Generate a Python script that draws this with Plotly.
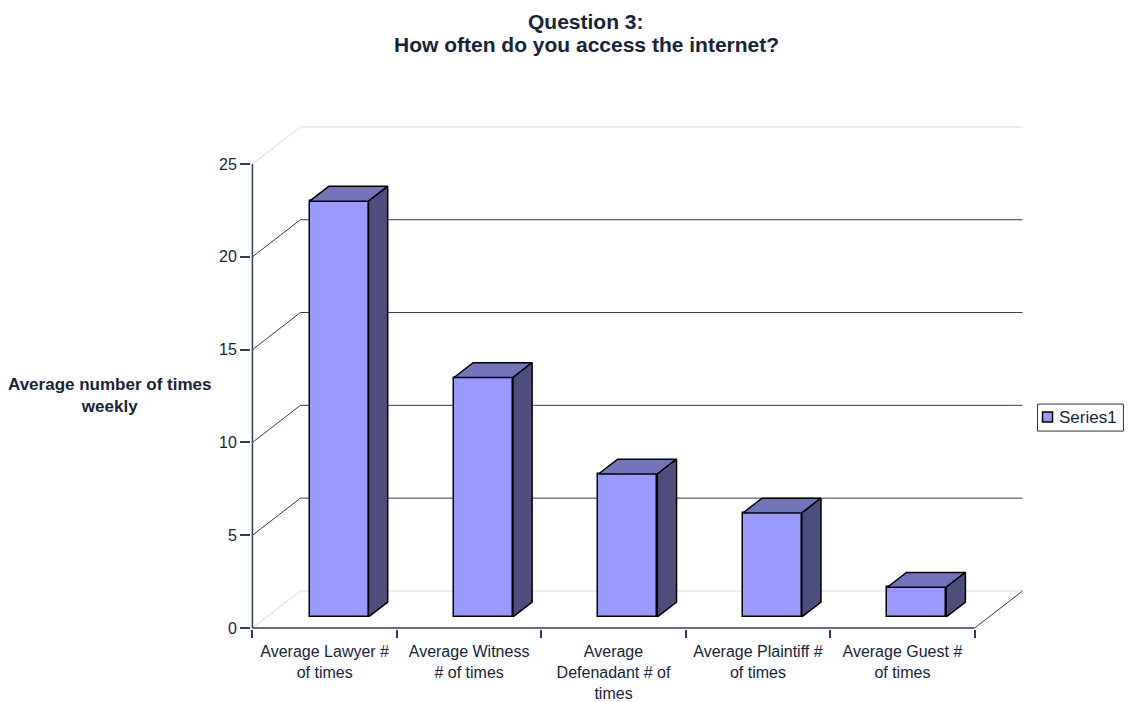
import plotly.graph_objects as go

# ---- data ----
categories = ["Average Lawyer #<br>of times", "Average Witness<br># of times",
              "Average<br>Defenadant # of<br>times", "Average Plaintiff #<br>of times",
              "Average Guest #<br>of times"]
values = [22.4, 12.9, 7.7, 5.6, 1.6]
y_ticks = [0, 5, 10, 15, 20, 25]
series_name = "Series1"
title_lines = ["Question 3:", "How often do you access the internet?"]

# ---- geometry (3D look) ----
DX, DY = 0.332, 2.0          # depth offset in data units (x, y)
D0, D1 = 0.3, 0.7            # bar depth span (fraction of full depth)
BW = 0.408                   # bar width
PAD_X, PAD_Y = 0.01, 0.05
PPU_X, PPU_Y = 144.6, 18.56  # pixels per data unit
W, H = 1130, 702
X0_PX, Y0_PX = 252, 628      # pixel of data (-0.5, 0)

xr = [-0.5 - PAD_X, 4.5 + DX + PAD_X]
yr = [-PAD_Y, max(y_ticks) + DY + PAD_Y]
L = X0_PX - PAD_X * PPU_X
PW = (xr[1] - xr[0]) * PPU_X
B = H - (Y0_PX + PAD_Y * PPU_Y)
PH = (yr[1] - yr[0]) * PPU_Y
T = H - B - PH
R = W - L - PW

def px2paper_x(px):
    return (px - L) / PW

def px2paper_y(py):
    return (H - B - py) / PH

TEXT = "#16243a"
DARK = "#2f3f52"
LIGHT = "#d9d9d9"
FRONT, TOP, SIDE = "#9999ff", "#7474bd", "#4e4e7e"
FONT = "Liberation Sans, Arial, sans-serif"

fig = go.Figure()

idx = list(range(len(values)))
fig.add_trace(go.Bar(
    x=idx, y=values, base=D0 * DY, width=BW, offset=-BW / 2 + D0 * DX,
    marker=dict(color=FRONT, line=dict(color="black", width=1.5)),
    name=series_name, showlegend=False, hoverinfo="skip"))

for i, v in zip(idx, values):
    xl = i - BW / 2 + D0 * DX
    xrr = xl + BW
    yb = D0 * DY
    yt = v + D0 * DY
    ddx = (D1 - D0) * DX
    ddy = (D1 - D0) * DY
    # top face
    fig.add_trace(go.Scatter(
        x=[xl, xrr, xrr + ddx, xl + ddx, xl], y=[yt, yt, yt + ddy, yt + ddy, yt],
        fill="toself", fillcolor=TOP, mode="lines",
        line=dict(color="black", width=1.5), showlegend=False, hoverinfo="skip"))
    # side face
    fig.add_trace(go.Scatter(
        x=[xrr, xrr + ddx, xrr + ddx, xrr, xrr], y=[yb, yb + ddy, yt + ddy, yt, yb],
        fill="toself", fillcolor=SIDE, mode="lines",
        line=dict(color="black", width=1.5), showlegend=False, hoverinfo="skip"))

shapes = []
for t in y_ticks:
    col = LIGHT if t in (min(y_ticks), max(y_ticks)) else DARK
    shapes.append(dict(type="line", xref="x", yref="y", x0=-0.5, y0=t, x1=-0.5 + DX, y1=t + DY,
                       line=dict(color=col, width=1), layer="below"))
    shapes.append(dict(type="line", xref="x", yref="y", x0=-0.5 + DX, y0=t + DY, x1=4.5 + DX, y1=t + DY,
                       line=dict(color=col, width=1), layer="below"))
# floor front edge and right edge
shapes.append(dict(type="line", xref="x", yref="y", x0=-0.5, y0=0, x1=4.5, y1=0,
                   line=dict(color=DARK, width=1.5), layer="below"))
shapes.append(dict(type="line", xref="x", yref="y", x0=4.5, y0=0, x1=4.5 + DX, y1=DY,
                   line=dict(color=DARK, width=1), layer="below"))
# front value axis line
shapes.append(dict(type="line", xref="x", yref="y", x0=-0.5, y0=0, x1=-0.5, y1=max(y_ticks),
                   line=dict(color=DARK, width=1.5), layer="below"))

# legend (drawn box, swatch, label)
shapes.append(dict(type="rect", xref="paper", yref="paper",
                   x0=px2paper_x(1038), x1=px2paper_x(1124), y0=px2paper_y(431), y1=px2paper_y(404),
                   line=dict(color="#333333", width=1), fillcolor="white", layer="above"))
shapes.append(dict(type="rect", xref="paper", yref="paper",
                   x0=px2paper_x(1043), x1=px2paper_x(1053), y0=px2paper_y(422), y1=px2paper_y(412),
                   line=dict(color="black", width=1.5), fillcolor=FRONT, layer="above"))

annotations = [
    dict(text="<b>Average number of times<br>weekly</b>",
         xref="paper", yref="paper", x=px2paper_x(109), y=px2paper_y(395),
         xanchor="center", yanchor="middle", showarrow=False,
         font=dict(size=17, color=TEXT)),
    dict(text=series_name, xref="paper", yref="paper", x=px2paper_x(1057), y=px2paper_y(417),
         xanchor="left", yanchor="middle", showarrow=False, font=dict(size=17, color=TEXT)),
]
for k, (line, ypx) in enumerate(zip(title_lines, [21, 44])):
    annotations.append(dict(text="<b>" + line + "</b>", xref="paper", yref="paper",
                            x=px2paper_x(586), y=px2paper_y(ypx), xanchor="center", yanchor="middle",
                            showarrow=False, font=dict(size=21, color=TEXT)))

fig.update_layout(
    width=W, height=H,
    margin=dict(l=L, r=R, t=T, b=B, pad=0, autoexpand=False),
    paper_bgcolor="white", plot_bgcolor="white",
    font=dict(family=FONT, size=16, color=TEXT),
    shapes=shapes,
    annotations=annotations,
    showlegend=False,
    xaxis=dict(range=xr, showgrid=False, zeroline=False, showline=False,
               tickvals=idx, ticktext=categories,
               ticks="outside", ticklen=8, tickcolor="rgba(0,0,0,0)",
               minor=dict(tickvals=[i - 0.5 for i in range(len(values) + 1)],
                          ticks="outside", ticklen=8, tickcolor=DARK, tickwidth=1.5, showgrid=False),
               tickfont=dict(size=16, color=TEXT), fixedrange=True),
    yaxis=dict(range=yr, showgrid=False, zeroline=False, showline=False,
               tickvals=y_ticks, ticks="outside", ticklen=10, tickcolor=DARK, tickwidth=1.5,
               tickfont=dict(size=16, color=TEXT), fixedrange=True),
    bargap=0,
)

fig.write_html("out.html")
